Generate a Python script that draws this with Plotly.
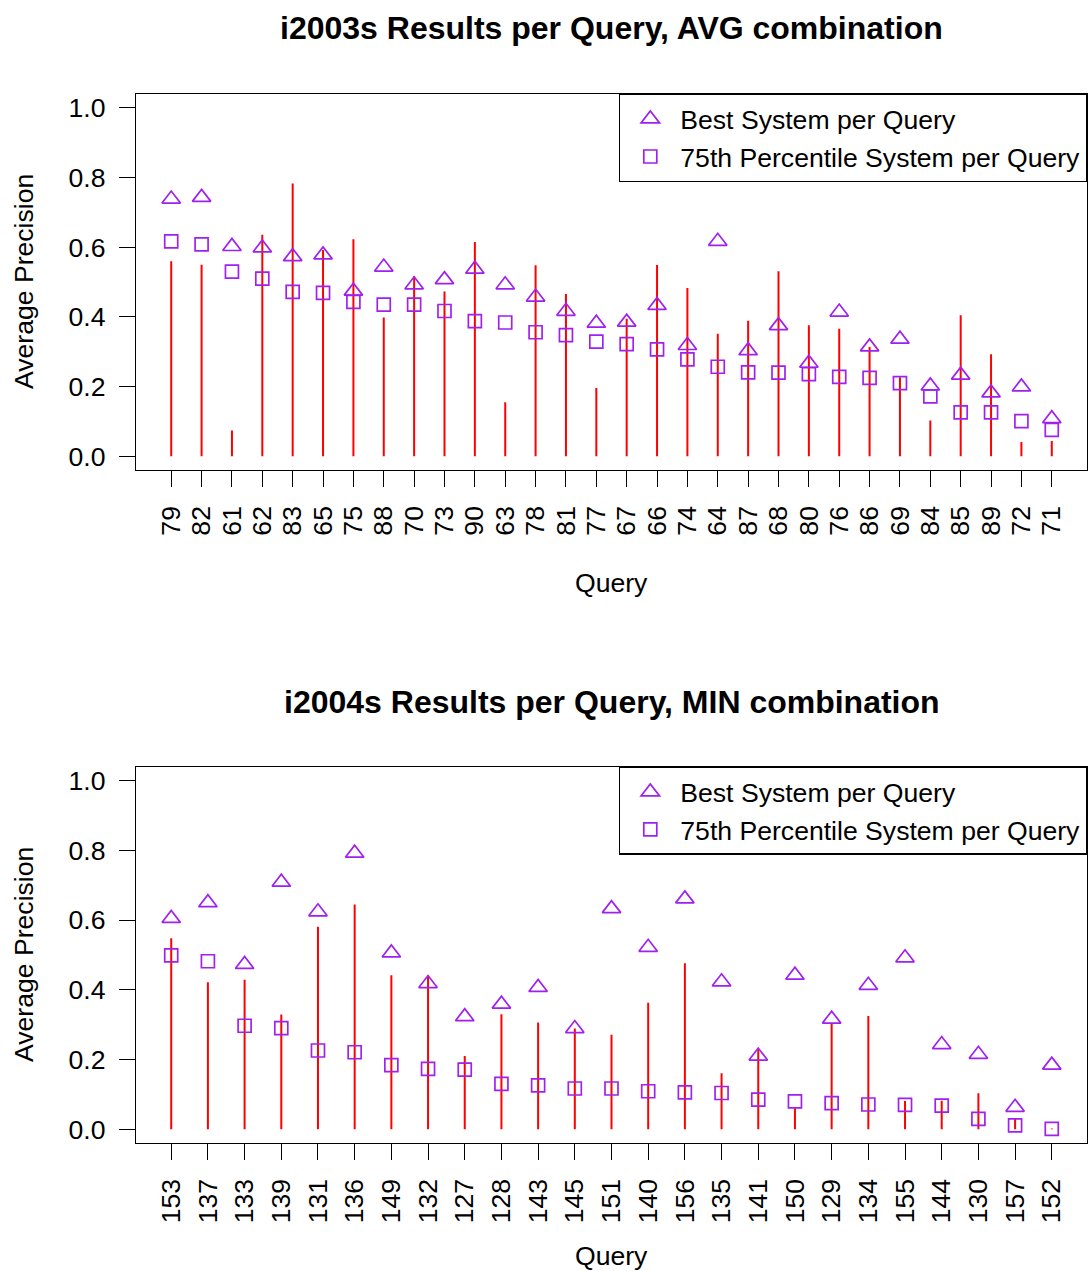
import plotly.graph_objects as go

# ---------------- data ----------------
queries_2003 = ["79", "82", "61", "62", "83", "65", "75", "88", "70", "73",
                "90", "63", "78", "81", "77", "67", "66", "74", "64", "87",
                "68", "80", "76", "86", "69", "84", "85", "89", "72", "71"]
ours_2003 = [0.560, 0.550, 0.074, 0.636, 0.783, 0.592, 0.623, 0.398, 0.517, 0.473,
             0.615, 0.155, 0.548, 0.466, 0.196, 0.395, 0.549, 0.483, 0.352, 0.389,
             0.531, 0.376, 0.366, 0.314, 0.227, 0.103, 0.405, 0.293, 0.041, 0.044]
best_2003 = [0.738, 0.743, 0.602, 0.598, 0.573, 0.578, 0.474, 0.543, 0.492, 0.507,
             0.537, 0.492, 0.457, 0.416, 0.382, 0.385, 0.433, 0.318, 0.617, 0.303,
             0.375, 0.267, 0.414, 0.314, 0.336, 0.202, 0.233, 0.182, 0.199, 0.108]
p75_2003 = [0.617, 0.608, 0.530, 0.510, 0.472, 0.469, 0.443, 0.435, 0.435, 0.417,
            0.388, 0.384, 0.356, 0.348, 0.329, 0.322, 0.307, 0.278, 0.257, 0.241,
            0.240, 0.236, 0.228, 0.225, 0.210, 0.172, 0.126, 0.126, 0.101, 0.076]

queries_2004 = ["153", "137", "133", "139", "131", "136", "149", "132", "127", "128",
                "143", "145", "151", "140", "156", "135", "141", "150", "129", "134",
                "155", "144", "130", "157", "152"]
ours_2004 = [0.548, 0.422, 0.429, 0.329, 0.581, 0.645, 0.442, 0.441, 0.210, 0.330,
             0.306, 0.289, 0.271, 0.363, 0.476, 0.161, 0.229, 0.060, 0.302, 0.325,
             0.081, 0.082, 0.103, 0.030, 0.002]
best_2004 = [0.605, 0.650, 0.473, 0.709, 0.624, 0.792, 0.506, 0.418, 0.323, 0.359,
             0.407, 0.289, 0.633, 0.522, 0.661, 0.423, 0.210, 0.442, 0.316, 0.413,
             0.492, 0.243, 0.215, 0.063, 0.184]
p75_2004 = [0.499, 0.482, 0.297, 0.290, 0.226, 0.221, 0.184, 0.173, 0.171, 0.130,
            0.126, 0.117, 0.117, 0.109, 0.106, 0.104, 0.085, 0.080, 0.075, 0.071,
            0.070, 0.068, 0.030, 0.011, 0.001]

titles = ["i2003s Results per Query, AVG combination",
          "i2004s Results per Query, MIN combination"]
y_ticks = [0.0, 0.2, 0.4, 0.6, 0.8, 1.0]
y_ticktext = ["0.0", "0.2", "0.4", "0.6", "0.8", "1.0"]
legend_labels = ["Best System per Query", "75th Percentile System per Query"]

# ---------------- style / layout ----------------
W, H = 1088, 1271
FONT = "Liberation Sans, Arial, Helvetica, sans-serif"
FS = 26.6
PURPLE = "#A020F0"
RED = "#FF0000"


def py(p):  # pixel row -> paper y
    return 1 - p / H


def px(p):
    return p / W


box_left, box_right = 136, 1087
panels = [
    dict(q=queries_2003, ours=ours_2003, best=best_2003, p75=p75_2003,
         top=93, bottom=470, title_y=27, xlab_y=583),
    dict(q=queries_2004, ours=ours_2004, best=best_2004, p75=p75_2004,
         top=767, bottom=1144, title_y=702, xlab_y=1257),
]

fig = go.Figure()
annotations = []
layout = {}

for i, p in enumerate(panels):
    n = i + 1
    xa = "x" if n == 1 else f"x{n}"
    ya = "y" if n == 1 else f"y{n}"
    lg = "legend" if n == 1 else f"legend{n}"
    q = p["q"]

    lx, ly = [], []
    for qq, v in zip(q, p["ours"]):
        lx += [qq, qq, None]
        ly += [0, v, None]
    fig.add_trace(go.Scatter(x=lx, y=ly, mode="lines", line=dict(color=RED, width=2),
                             xaxis=xa, yaxis=ya, showlegend=False, hoverinfo="skip",
                             connectgaps=False))
    fig.add_trace(go.Scatter(x=q, y=p["best"], mode="markers", xaxis=xa, yaxis=ya,
                             marker=dict(symbol="triangle-up-open", size=16, color=PURPLE,
                                         line=dict(width=1.7, color=PURPLE)),
                             showlegend=False))
    fig.add_trace(go.Scatter(x=q, y=p["p75"], mode="markers", xaxis=xa, yaxis=ya,
                             marker=dict(symbol="square-open", size=13, color=PURPLE,
                                         line=dict(width=1.7, color=PURPLE)),
                             showlegend=False))
    # legend entries
    fig.add_trace(go.Scatter(x=[None], y=[None], mode="markers", xaxis=xa, yaxis=ya,
                             name=legend_labels[0], legend=lg,
                             marker=dict(symbol="triangle-up-open", size=16, color=PURPLE,
                                         line=dict(width=1.7, color=PURPLE))))
    fig.add_trace(go.Scatter(x=[None], y=[None], mode="markers", xaxis=xa, yaxis=ya,
                             name=legend_labels[1], legend=lg,
                             marker=dict(symbol="square-open", size=13, color=PURPLE,
                                         line=dict(width=1.7, color=PURPLE))))

    ext = 0.04 * (len(q) - 1)
    axis_common = dict(showline=True, mirror=True, linecolor="black", linewidth=1.3,
                       ticks="outside", ticklen=16, tickwidth=1.3, tickcolor="black",
                       showgrid=False, zeroline=False,
                       tickfont=dict(family=FONT, size=FS, color="black"))
    layout["xaxis" if n == 1 else f"xaxis{n}"] = dict(
        type="category", categoryorder="array", categoryarray=q,
        tickmode="array", tickvals=q, ticktext=q,
        range=[-ext, len(q) - 1 + ext], tickangle=-90,
        domain=[px(box_left), px(box_right)], anchor=ya, ticklabelstandoff=8,
        **axis_common)
    layout["yaxis" if n == 1 else f"yaxis{n}"] = dict(
        range=[-0.04, 1.04], tickvals=y_ticks, ticktext=y_ticktext, tickangle=0,
        domain=[py(p["bottom"]), py(p["top"])], anchor=xa, ticklabelstandoff=8,
        **axis_common)
    layout[lg] = dict(x=px(box_right), xanchor="right", y=py(p["top"]), yanchor="top",
                      bordercolor="black", borderwidth=1.3, bgcolor="white",
                      font=dict(family=FONT, size=FS, color="black"),
                      itemwidth=50, tracegroupgap=0, itemsizing="trace")

    cx = px((box_left + box_right) / 2)
    annotations.append(dict(text=f"<b>{titles[i]}</b>", x=cx, y=py(p["title_y"]),
                            xref="paper", yref="paper", xanchor="center", yanchor="middle",
                            showarrow=False, font=dict(family=FONT, size=32, color="black")))
    annotations.append(dict(text="Query", x=cx, y=py(p["xlab_y"]),
                            xref="paper", yref="paper", xanchor="center", yanchor="middle",
                            showarrow=False, font=dict(family=FONT, size=FS, color="black")))
    annotations.append(dict(text="Average Precision", x=px(24),
                            y=py((p["top"] + p["bottom"]) / 2), textangle=-90,
                            xref="paper", yref="paper", xanchor="center", yanchor="middle",
                            showarrow=False, font=dict(family=FONT, size=FS, color="black")))

fig.update_layout(width=W, height=H, autosize=False,
                  margin=dict(l=0, r=0, t=0, b=0),
                  paper_bgcolor="white", plot_bgcolor="white",
                  font=dict(family=FONT, size=FS, color="black"),
                  annotations=annotations, **layout)

fig.write_html("out.html")
